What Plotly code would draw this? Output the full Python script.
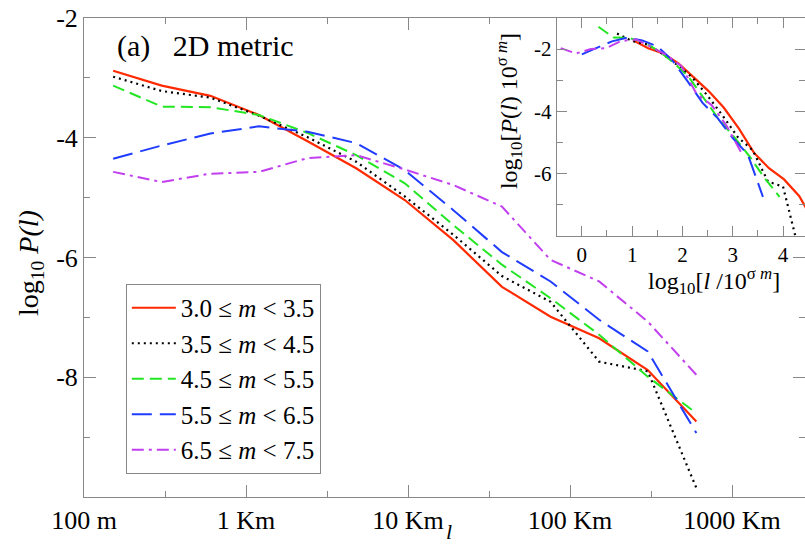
import plotly.graph_objects as go

# ---- data ----
log_l = [2.18, 2.48, 2.78, 3.08, 3.38, 3.68, 3.98, 4.28, 4.58, 4.88, 5.18, 5.48, 5.78]

p_30_35 = [-2.88, -3.13, -3.30, -3.62, -4.06, -4.51, -5.04, -5.71, -6.49, -6.99, -7.35, -7.88, -8.74]
p_35_45 = [-2.98, -3.22, -3.33, -3.63, -3.99, -4.40, -4.98, -5.62, -6.31, -6.74, -7.74, -7.90, -9.85]
p_45_55 = [-3.13, -3.48, -3.49, -3.62, -3.92, -4.29, -4.76, -5.46, -6.12, -6.68, -7.29, -7.99, -8.60]
p_55_65 = [-4.35, -4.13, -3.93, -3.81, -3.90, -4.09, -4.54, -5.21, -5.91, -6.40, -7.04, -7.57, -8.93]
p_65_75 = [-4.57, -4.74, -4.60, -4.57, -4.34, -4.29, -4.53, -4.79, -5.15, -6.04, -6.40, -7.07, -7.96]

# sigma*m scaling shift for each magnitude bin (inset)
sigma_m = [1.16, 1.48, 1.85, 2.18, 2.60]

names = ["3.0 ≤ <i>m</i> &lt; 3.5", "3.5 ≤ <i>m</i> &lt; 4.5", "4.5 ≤ <i>m</i> &lt; 5.5",
         "5.5 ≤ <i>m</i> &lt; 6.5", "6.5 ≤ <i>m</i> &lt; 7.5"]
series = [p_30_35, p_35_45, p_45_55, p_55_65, p_65_75]

x_tickvals = [2, 3, 4, 5, 6]
x_ticktext = ["100 m", "1 Km", "10 Km", "100 Km", "1000 Km"]
y_tickvals = [-2, -4, -6, -8]
y_ticktext = ["-2", "-4", "-6", "-8"]
ins_x_tickvals = [0, 1, 2, 3, 4]
ins_y_tickvals = [-2, -4, -6]
ins_y_ticktext = ["-2", "-4", "-6"]

# ---- styles ----
colors = ["#ff2a00", "#000000", "#22e622", "#1f3cff", "#c23ff0"]
dashes = ["solid", "2px,4px", "12px,6px", "20px,8px", "12px,5px,3px,5px"]
widths = [2.2, 2.2, 2.0, 2.0, 2.0]
FONT = "Liberation Serif"
GRAY = "#888888"

fig = go.Figure()
for name, ys, c, d, w in zip(names, series, colors, dashes, widths):
    fig.add_trace(go.Scatter(x=log_l, y=ys, mode="lines", name=name,
                             line=dict(color=c, dash=d, width=w),
                             xaxis="x", yaxis="y"))
for ys, s, c, d, w in zip(series, sigma_m, colors, dashes, widths):
    fig.add_trace(go.Scatter(x=[v - s for v in log_l], y=[v + s for v in ys],
                             mode="lines", showlegend=False,
                             line=dict(color=c, dash=d, width=w),
                             xaxis="x2", yaxis="y2"))

axis_common = dict(showgrid=False, zeroline=False, showline=True, linecolor=GRAY,
                   linewidth=1, mirror="ticks", ticks="inside", tickcolor=GRAY)

fig.update_layout(
    width=805, height=546,
    margin=dict(l=84, r=0, t=18, b=49),
    paper_bgcolor="white", plot_bgcolor="white",
    font=dict(family=FONT, color="black"),
    showlegend=True,
    xaxis=dict(domain=[0, 1], range=[2, 2 + 721 / 162], tickmode="array",
               tickvals=x_tickvals, ticktext=x_ticktext, ticklen=12,
               tickfont=dict(size=26, family=FONT),
               minor=dict(tickmode="array", tickvals=[2.5, 3.5, 4.5, 5.5],
                          ticks="inside", ticklen=6, tickcolor=GRAY),
               **axis_common),
    yaxis=dict(domain=[0, 1], range=[-10, -2], tickmode="array",
               tickvals=y_tickvals, ticktext=y_ticktext, ticklen=12,
               tickfont=dict(size=26, family=FONT),
               minor=dict(tickmode="array", tickvals=[-3, -5, -7, -9],
                          ticks="inside", ticklen=6, tickcolor=GRAY),
               **axis_common),
    xaxis2=dict(domain=[0.6556, 1], range=[-0.5, -0.5 + 248.3 / 50.3], anchor="y2",
                tickmode="array", tickvals=ins_x_tickvals, ticklen=10,
                tickfont=dict(size=21, family=FONT),
                minor=dict(tickmode="array", tickvals=[0.5, 1.5, 2.5, 3.5],
                           ticks="inside", ticklen=6, tickcolor=GRAY),
                **axis_common),
    yaxis2=dict(domain=[0.5455, 1], range=[-8, -1], anchor="x2",
                tickmode="array", tickvals=ins_y_tickvals, ticktext=ins_y_ticktext,
                ticklen=10, tickfont=dict(size=21, family=FONT),
                minor=dict(tickmode="array", tickvals=[-3, -5, -7],
                           ticks="inside", ticklen=6, tickcolor=GRAY),
                **axis_common),
    legend=dict(x=0.058, y=0.4447, xanchor="left", yanchor="top",
                bgcolor="white", bordercolor=GRAY, borderwidth=1, itemwidth=44,
                font=dict(size=25, family=FONT), tracegroupgap=0),
)

annotations = [
    dict(text="(a)\u00a0\u00a0\u00a02D metric", x=0.043, y=0.9415, xref="paper", yref="paper",
         xanchor="left", yanchor="middle", showarrow=False, font=dict(size=30, family=FONT)),
    dict(text="<i>l</i>", x=0.5062, y=-0.071, xref="paper", yref="paper",
         xanchor="center", yanchor="middle", showarrow=False, font=dict(size=22, family=FONT)),
    dict(text="log<sub>10</sub> <i>P(l)</i>", x=-0.0749, y=0.4885, xref="paper", yref="paper",
         xanchor="center", yanchor="middle", textangle=-90, showarrow=False,
         font=dict(size=28, family=FONT)),
    dict(text="log<sub>10</sub>[<i>l</i> /10<sup>σ <i>m</i></sup>]", x=0.8738, y=0.4509,
         xref="paper", yref="paper", xanchor="center", yanchor="middle", showarrow=False,
         font=dict(size=24, family=FONT)),
    dict(text="log<sub>10</sub>[<i>P</i>(<i>l</i>) 10<sup>σ <i>m</i></sup>]", x=0.5895, y=0.8058,
         xref="paper", yref="paper", xanchor="center", yanchor="middle", textangle=-90,
         showarrow=False, font=dict(size=24, family=FONT)),
]
fig.update_layout(annotations=annotations)

fig.write_html("out.html")
